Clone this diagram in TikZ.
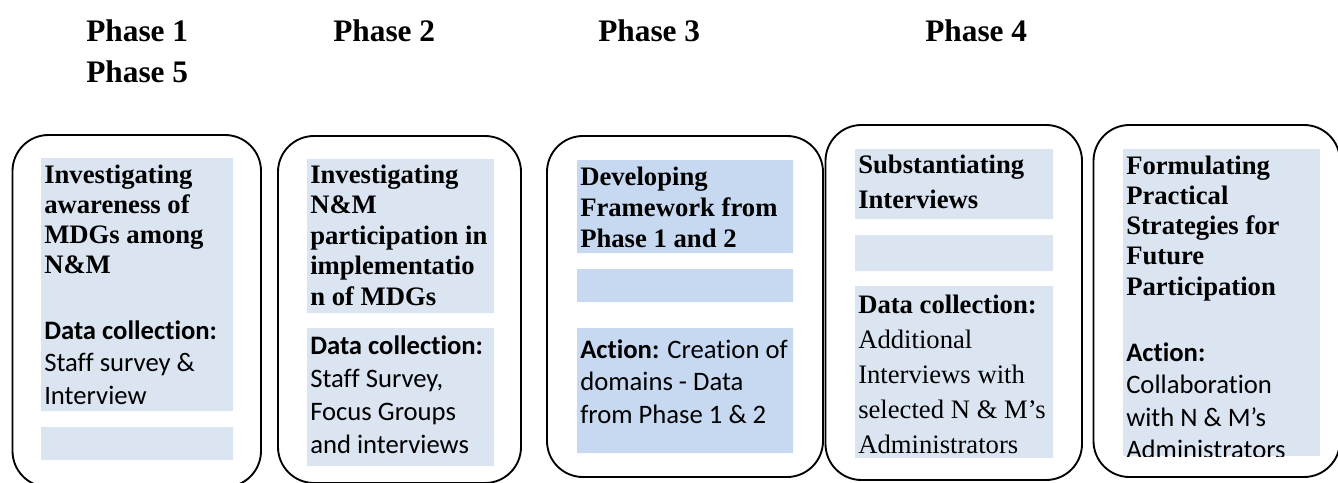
\documentclass[tikz,border=0pt]{standalone}
\usepackage{fontspec}
\setmainfont{Liberation Serif}
\newfontfamily\calibri[Ligatures=CommonOff]{Carlito}
\definecolor{panelblue}{HTML}{DBE5F1}
\definecolor{paneldark}{HTML}{C6D9F1}

\begin{document}
\begin{tikzpicture}[x=0.75pt,y=-0.75pt,
    phasebox/.style={rounded corners=27pt,line width=1.4pt},
    head/.style={anchor=base west,inner sep=0pt,font=\fontsize{23.5}{28}\selectfont\bfseries},
    txt/.style={anchor=base west,inner sep=0pt,align=flush left,text width=240pt},
    title/.style={txt,font=\fontsize{20}{#1}\selectfont\bfseries},
    body/.style={txt,font=\calibri\fontsize{20}{#1}\selectfont}]
    \useasboundingbox (0,0) rectangle (1338,482);
    \clip (0,0) rectangle (1338,482);
    \node[head] (ph1) at (86,41) {Phase 1};
    \node[head] (ph2) at (333,41) {Phase 2};
    \node[head] (ph3) at (598,41) {Phase 3};
    \node[head] (ph4) at (925,41) {Phase 4};
    \node[head] (ph5) at (86,82) {Phase 5};
    \draw[phasebox] (12.5,135) rectangle (261,487);
    \draw[phasebox] (278,136) rectangle (521,483);
    \draw[phasebox] (547,136) rectangle (823,477);
    \draw[phasebox] (825.5,125) rectangle (1082,480);
    \draw[phasebox] (1093.5,125) rectangle (1340,477);
    \fill[panelblue] (41,158) rectangle (233,411) (41,427) rectangle (233,460);
    \fill[panelblue] (307,159) rectangle (494,313) (307,328) rectangle (494,466);
    \fill[paneldark] (577,160) rectangle (793,253) (577,269) rectangle (793,302)
        (577,328) rectangle (793,453);
    \fill[panelblue] (855,149) rectangle (1053,219) (855,235) rectangle (1053,271)
        (855,286) rectangle (1053,458);
    \fill[panelblue] (1123,149) rectangle (1320,456);
    \node[title=22.5pt] (t1) at (44,183) {Investigating\\awareness of\\MDGs among\\N\&M};
    \node[body=24.4pt] (d1) at (44,339) {\textbf{Data collection:}\\Staff survey \&\\Interview};
    \node[title=22.9pt] (t2) at (310,183) {Investigating\\N\&M\\participation in\\implementatio\\n of MDGs};
    \node[body=24.75pt] (d2) at (310,354) {\textbf{Data collection:}\\Staff Survey,\\Focus Groups\\and interviews};
    \node[title=23.25pt] (t3) at (580,185) {Developing\\Framework from\\Phase 1 and 2};
    \node[body=24.4pt] (d3) at (580,358) {\textbf{Action:} Creation of\\domains - Data\\from Phase 1 \& 2};
    \node[title=26.25pt] (t4) at (858,173) {Substantiating\\Interviews};
    \node[txt,font=\fontsize{20}{26.25}\selectfont] (d4) at (858,313)
        {\textbf{Data collection:}\\Additional\\Interviews with\\selected N \& M’s\\Administrators};
    \node[title=22.7pt] (t5) at (1126,174) {Formulating\\Practical\\Strategies for\\Future\\Participation};
    \begin{scope}
        \clip (1123,149) rectangle (1320,456);
        \node[body=24.4pt] (d5) at (1126,361) {\textbf{Action:}\\Collaboration\\with N \& M’s\\Administrators};
    \end{scope}
\end{tikzpicture}
\end{document}
